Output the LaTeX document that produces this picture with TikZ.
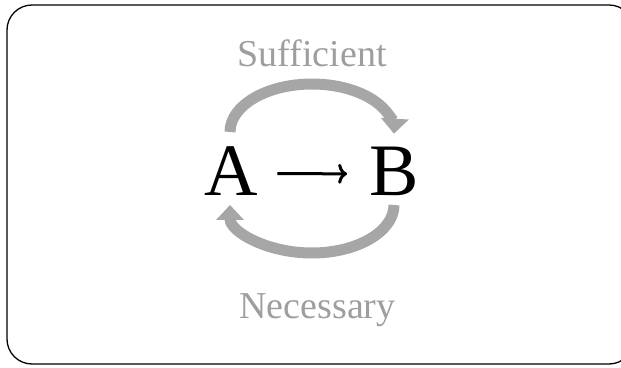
\documentclass[tikz,border=0pt]{standalone}
\usepackage{fontspec}
\setmainfont{Liberation Serif}
\usetikzlibrary{arrows.meta}
\definecolor{arcgray}{HTML}{A6A6A6}
\definecolor{txtgray}{HTML}{9E9E9E}
\tikzset{
  arcline/.style={draw=arcgray, line width=11pt, -{Triangle[width=27pt,length=15pt]}},
  graylabel/.style={text=txtgray, font=\fontsize{38}{42}\selectfont, inner sep=0pt, anchor=base},
  bigletter/.style={inner sep=0pt, anchor=base, font=\fontsize{74}{80}\selectfont},
  implies/.style={draw=black, line width=3pt, -{To[length=9pt,width=20pt]}, shorten <=19pt, shorten >=22pt},
  frame/.style={draw=black, line width=1.3pt, rounded corners=25pt}
}
\begin{document}
\begin{tikzpicture}[x=1pt,y=1pt]
\useasboundingbox (0,0) rectangle (621,367);
\draw[frame] (7,362) rectangle (634,3);
\node[bigletter] (A) at (231.5,171) {A};
\node[bigletter] (B) at (394,171) {B};
\draw[implies] ([yshift=-2pt]A.east) -- ([yshift=-2pt]B.west);
\node[graylabel] (suf) at (312,300) {Sufficient};
\node[graylabel] (nec) at (317.5,49) {Necessary};
\coordinate (topstart) at (230,235);
\coordinate (botstart) at (394,162);
\draw[arcline] (topstart) arc[start angle=180, end angle=-2, x radius=82, y radius=48];
\draw[arcline] (botstart) arc[start angle=0, end angle=-180, x radius=82, y radius=48];
\end{tikzpicture}
\end{document}
